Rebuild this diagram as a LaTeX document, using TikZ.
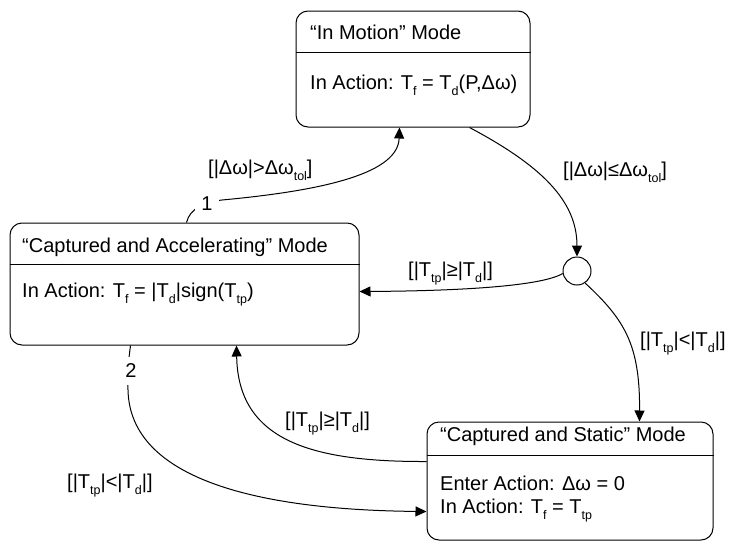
\documentclass[tikz,border=0pt]{standalone}
\usepackage{fontspec}
\setmainfont{Liberation Sans}
\usetikzlibrary{arrows.meta}
\newcommand{\sbs}[1]{\raisebox{-6pt}{\fontsize{12.5}{13}\selectfont #1}}
\begin{document}
\begin{tikzpicture}[x=1pt,y=-1pt,
  every node/.style={font=\fontsize{20}{23}\selectfont},
  box/.style={draw, line width=1pt, rounded corners=12pt, inner sep=0pt},
  txt/.style={anchor=base west, inner sep=0pt},
  lab/.style={anchor=base west, inner sep=0pt},
  conn/.style={line width=1pt, -{Triangle[length=11pt,width=10pt]}},
  num/.style={fill=white, inner xsep=6pt, inner ysep=6pt}]
\useasboundingbox (0,0) rectangle (734,541);
% boxes
\node[box, minimum width=234pt, minimum height=116pt] (im) at (413,69) {};
\node[box, minimum width=349pt, minimum height=122pt] (ca) at (184.5,284) {};
\node[box, minimum width=286pt, minimum height=118pt] (cs) at (570,481) {};
\node[draw, circle, line width=1pt, minimum size=28pt, inner sep=0pt] (c) at (577,271) {};
% dividers
\coordinate (d1) at (0,52);
\coordinate (d2) at (0,264);
\coordinate (d3) at (0,455);
\draw[line width=0.8pt] (im.west |- d1) -- (im.east |- d1);
\draw[line width=0.8pt] (ca.west |- d2) -- (ca.east |- d2);
\draw[line width=0.8pt] (cs.west |- d3) -- (cs.east |- d3);
% texts
\node[txt] (t1) at (310,39) {“In Motion” Mode};
\node[txt] (b1) at (310,89) {In Action: T\sbs{f} = T\sbs{d}(P,Δω)};
\node[txt] (t2) at (22,252) {“Captured and Accelerating” Mode};
\node[txt] (b2) at (22,297) {In Action: T\sbs{f} = |T\sbs{d}|sign(T\sbs{tp})};
\node[txt] (t3) at (440,441) {“Captured and Static” Mode};
\node[txt] (b3a) at (440,490) {Enter Action: Δω = 0};
\node[txt] (b3b) at (440,513) {In Action: T\sbs{f} = T\sbs{tp}};
% connectors
\draw[conn] ([xshift=177pt]ca.north west) .. controls (190,208) and (205,202) .. (222,200)
   .. controls (330,190) and (398,172) .. ([xshift=104pt]im.south west);
\node[num] (n1) at (207,204) {1};
\draw[conn] ([xshift=174pt]im.south west) .. controls (540,165) and (577,200) .. (c.north);
\draw[conn] (c.190) .. controls (540,287) and (450,291) .. ([yshift=-69pt]ca.north east);
\draw[conn] (c.-56) .. controls (625,320) and (640,345) .. ([xshift=213pt]cs.north west);
\draw[conn] ([yshift=-40pt]cs.north west) .. controls (310,462) and (238,440) .. ([xshift=227pt]ca.south west);
\draw[conn] ([xshift=121pt]ca.south west) .. controls (128,365) and (127,375) .. (128,390)
   .. controls (130,480) and (260,510) .. ([yshift=-90pt]cs.north west);
\node[num, inner xsep=4pt, inner ysep=7pt] (n2) at (131,371) {2};
% labels
\node[lab] (l1) at (208,174) {[|Δω|>Δω\sbs{tol}]};
\node[lab] (l2) at (563,176) {[|Δω|≤Δω\sbs{tol}]};
\node[lab] (l3) at (408,276) {[|T\sbs{tp}|≥|T\sbs{d}|]};
\node[lab] (l4) at (640,346) {[|T\sbs{tp}|<|T\sbs{d}|]};
\node[lab] (l5) at (285,426) {[|T\sbs{tp}|≥|T\sbs{d}|]};
\node[lab] (l6) at (67,488) {[|T\sbs{tp}|<|T\sbs{d}|]};
\end{tikzpicture}
\end{document}
